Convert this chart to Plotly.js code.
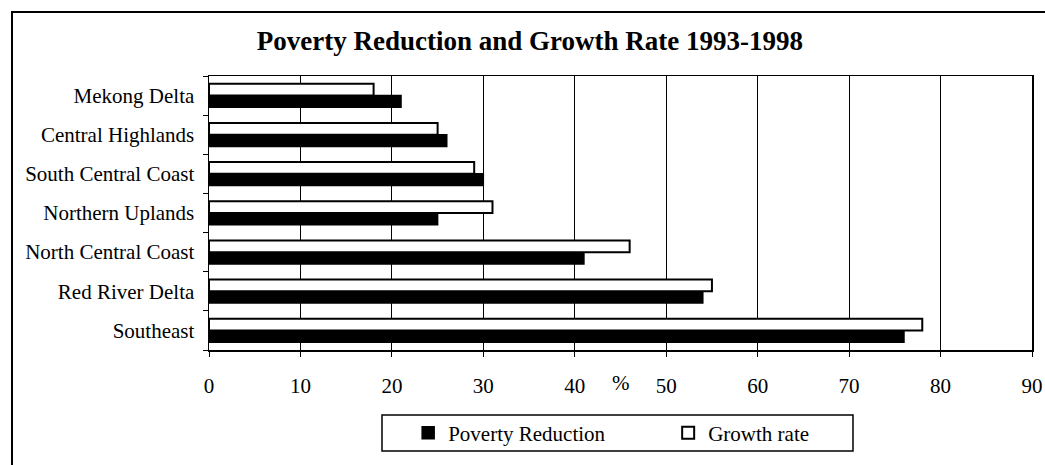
<!DOCTYPE html>
<html><head><meta charset="utf-8">
<script src="https://cdn.plot.ly/plotly-3.0.1.min.js"></script>
<style>
html,body{margin:0;padding:0;background:#fff;overflow:hidden;}
#wrap{position:relative;width:1045px;height:465px;overflow:hidden;background:#fff;}
#chart{position:absolute;left:0;top:0;width:1045px;height:465px;}
#frame{position:absolute;left:11px;top:11px;width:1100px;height:600px;border:2px solid #000;box-sizing:border-box;pointer-events:none;z-index:5;}
</style></head>
<body>
<div id="wrap"><div id="chart"></div><div id="frame"></div></div>
<script>
// Categories listed bottom-to-top as drawn
const regions = ["Southeast", "Red River Delta", "North Central Coast", "Northern Uplands",
                 "South Central Coast", "Central Highlands", "Mekong Delta"];
const povertyReduction = [76, 54, 41, 25, 30, 26, 21];
const growthRate = [78, 55, 46, 31, 29, 25, 18];
const xTickValues = [0, 10, 20, 30, 40, 50, 60, 70, 80, 90];
const seriesNames = ["Poverty Reduction", "Growth rate"];
const chartTitle = "Poverty Reduction and Growth Rate 1993-1998";
const unitLabel = "%";

const FONT = "Liberation Serif, Times New Roman, serif";
const LABEL_SIZE = 21;

const traces = [
  {
    type: "bar", orientation: "h", name: seriesNames[0],
    y: regions, x: povertyReduction,
    marker: {color: "#000000", line: {color: "#000000", width: 1.5}},
    hoverinfo: "x+y+name"
  },
  {
    type: "bar", orientation: "h", name: seriesNames[1],
    y: regions, x: growthRate,
    marker: {color: "#ffffff", line: {color: "#000000", width: 2}},
    hoverinfo: "x+y+name"
  }
];

const layout = {
  width: 1045, height: 465,
  margin: {l: 209, r: 13, t: 76, b: 115, pad: 0},
  paper_bgcolor: "rgba(0,0,0,0)",
  plot_bgcolor: "#ffffff",
  font: {family: FONT, size: LABEL_SIZE, color: "#000"},
  title: {
    text: "<b>" + chartTitle + "</b>",
    font: {family: FONT, size: 27, color: "#000"},
    xref: "container", x: 0.507, xanchor: "center",
    yref: "container", y: 0.912, yanchor: "middle"
  },
  barmode: "group", bargap: 0.4, bargroupgap: 0,
  showlegend: true,
  legend: {
    orientation: "h", traceorder: "normal",
    xref: "paper", x: 0.242, xanchor: "left",
    yref: "paper", y: -0.303, yanchor: "middle",
    bgcolor: "rgba(0,0,0,0)", borderwidth: 0,
    entrywidth: 215,
    font: {family: FONT, size: LABEL_SIZE, color: "#000"}
  },
  xaxis: {
    range: [0, 90], tickvals: xTickValues, ticktext: xTickValues.map(String),
    showgrid: true, gridcolor: "#000", gridwidth: 1,
    zeroline: false,
    showline: true, linecolor: "#000", linewidth: 1.5, mirror: true,
    ticks: "outside", ticklen: 5, tickwidth: 1, tickcolor: "#000",
    ticklabelstandoff: 11,
    tickfont: {family: FONT, size: LABEL_SIZE, color: "#000"},
    fixedrange: true
  },
  yaxis: {
    type: "category",
    showgrid: false, zeroline: false,
    showline: true, linecolor: "#000", linewidth: 1.5, mirror: true,
    ticks: "outside", tickson: "boundaries", ticklen: 5, tickwidth: 1, tickcolor: "#000",
    ticklabelstandoff: 9,
    tickfont: {family: FONT, size: LABEL_SIZE, color: "#000"},
    fixedrange: true
  },
  annotations: [
    {
      text: unitLabel, xref: "x", x: 45, yref: "paper", y: 0,
      yanchor: "top", yshift: -19, showarrow: false,
      font: {family: FONT, size: LABEL_SIZE, color: "#000"}
    }
  ],
  shapes: [
    {
      type: "rect", xref: "paper", yref: "paper",
      x0: 0.2102, x1: 0.7825, y0: -0.2372, y1: -0.3686,
      line: {color: "#000", width: 1.5}, fillcolor: "rgba(0,0,0,0)", layer: "above"
    }
  ]
};

Plotly.newPlot("chart", traces, layout, {displayModeBar: false, staticPlot: true});
</script>
</body></html>
